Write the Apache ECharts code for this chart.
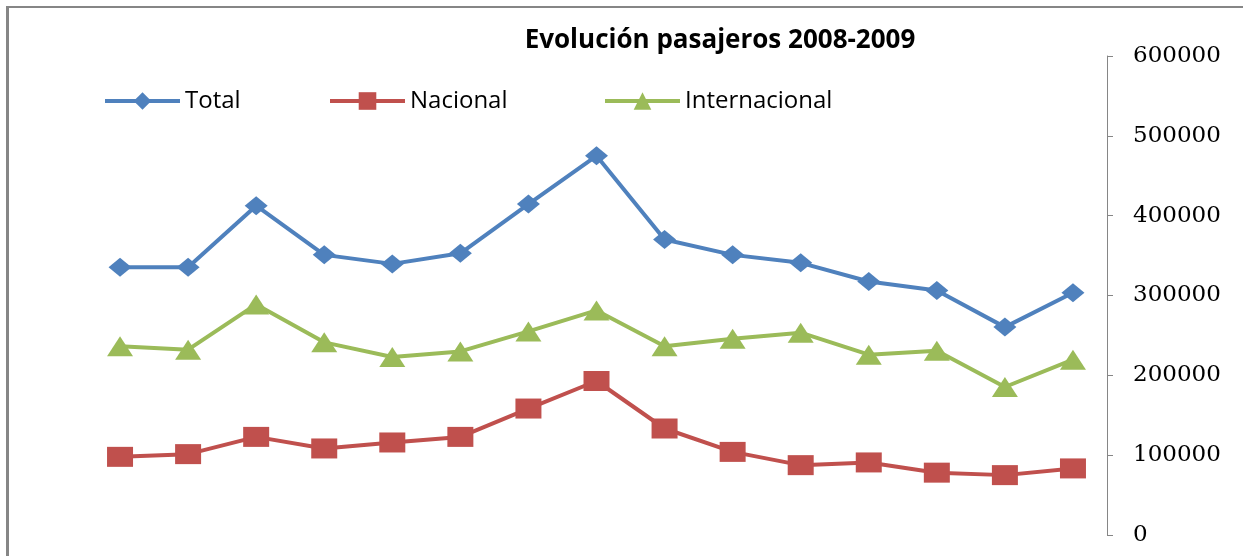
<!DOCTYPE html>
<html>
<head>
<meta charset="utf-8">
<title>Evolución pasajeros 2008-2009</title>
<script src="https://cdn.jsdelivr.net/npm/echarts@6/dist/echarts.min.js"></script>
<style>
  html, body { margin: 0; padding: 0; background: #fff; overflow: hidden; }
  #chart { width: 1243px; height: 556px; }
</style>
</head>
<body>
<div id="chart"></div>
<script>
// 15 monthly points, no labels shown on the x axis in the original
const categories = ['1', '2', '3', '4', '5', '6', '7', '8', '9', '10', '11', '12', '13', '14', '15'];

const total = [335400, 335400, 412500, 350900, 339600, 352900, 414600, 475000, 370200, 350900, 340900, 317500, 306300, 260400, 303400];
const nacional = [97900, 101300, 122900, 108400, 115900, 122900, 158400, 192900, 133400, 104100, 87500, 90900, 78100, 75000, 83400];
const internacional = [236300, 232100, 288800, 241300, 222900, 230000, 255000, 281300, 236300, 245900, 253400, 225900, 230900, 185400, 219600];

const yTicks = [0, 100000, 200000, 300000, 400000, 500000, 600000];

const chart = echarts.init(document.getElementById('chart'));

const legendText = { fontFamily: 'Open Sans', fontSize: 24, color: '#000' };
const legendBase = {
  top: 89, padding: 0, itemWidth: 75, itemHeight: 22,
  lineStyle: { width: 4 }, textStyle: legendText
};

const option = {
  animation: false,
  backgroundColor: '#fff',
  title: {
    text: 'Evolución pasajeros 2008-2009',
    left: 715,
    top: 23,
    textAlign: 'center',
    textStyle: { fontFamily: 'Open Sans', fontWeight: 'bold', fontSize: 26, color: '#000' }
  },
  legend: [
    Object.assign({ data: ['Total'], left: 103 }, legendBase),
    Object.assign({ data: ['Nacional'], left: 328 }, legendBase),
    Object.assign({ data: ['Internacional'], left: 603 }, legendBase)
  ],
  grid: { left: 86, right: 136, top: 56, bottom: 21, outerBoundsMode: 'none' },
  xAxis: {
    type: 'category',
    data: categories,
    boundaryGap: true,
    show: false
  },
  yAxis: {
    type: 'value',
    position: 'right',
    min: yTicks[0],
    max: yTicks[yTicks.length - 1],
    interval: 100000,
    axisLine: { show: true, lineStyle: { color: '#868686', width: 1 } },
    axisTick: { show: true, length: 6, lineStyle: { color: '#868686' } },
    axisLabel: {
      margin: 26,
      fontFamily: 'DejaVu Serif',
      fontSize: 23,
      color: '#000',
      formatter: (v) => String(v)
    },
    splitLine: { show: false }
  },
  series: [
    {
      name: 'Total',
      type: 'line',
      data: total,
      symbol: 'diamond',
      symbolSize: [23, 19],
      lineStyle: { color: '#4F81BD', width: 4 },
      itemStyle: { color: '#4F81BD' }
    },
    {
      name: 'Nacional',
      type: 'line',
      data: nacional,
      symbol: 'rect',
      symbolSize: [26, 20],
      lineStyle: { color: '#C0504D', width: 4 },
      itemStyle: { color: '#C0504D' }
    },
    {
      name: 'Internacional',
      type: 'line',
      data: internacional,
      symbol: 'triangle',
      symbolSize: [26, 20],
      lineStyle: { color: '#9BBB59', width: 4 },
      itemStyle: { color: '#9BBB59' }
    }
  ],
  // chart frame: only the top and left edges fall inside the picture
  graphic: [
    {
      type: 'line',
      shape: { x1: 6, y1: 7, x2: 1300, y2: 7 },
      style: { stroke: '#868686', lineWidth: 2 },
      silent: true
    },
    {
      type: 'line',
      shape: { x1: 7.5, y1: 6, x2: 7.5, y2: 600 },
      style: { stroke: '#868686', lineWidth: 3 },
      silent: true
    }
  ]
};

chart.setOption(option);
window.addEventListener('resize', () => chart.resize());
</script>
</body>
</html>
